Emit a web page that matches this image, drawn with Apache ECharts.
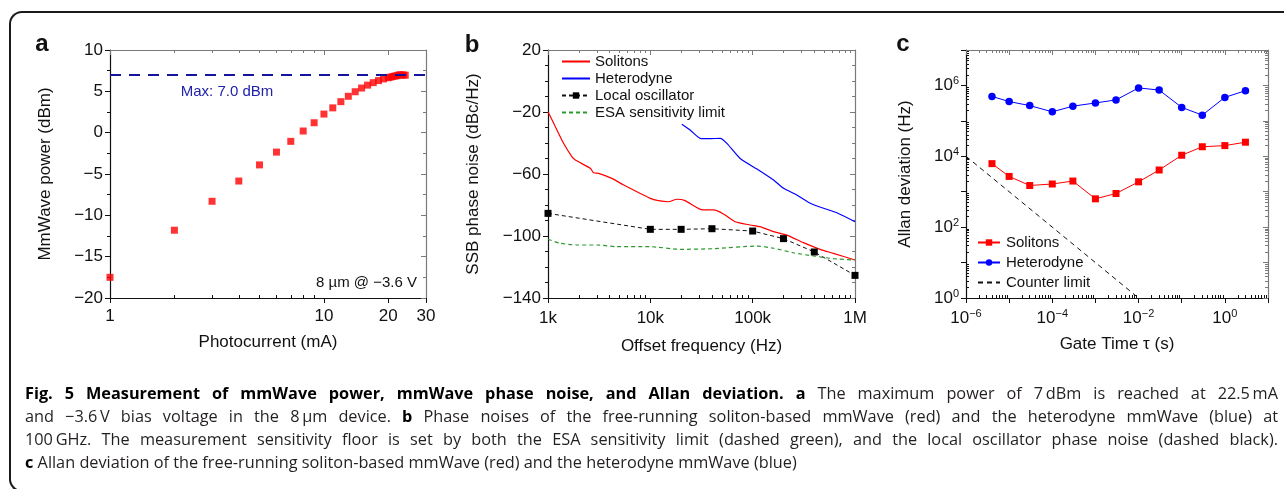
<!DOCTYPE html>
<html>
<head>
<meta charset="utf-8">
<script src="https://cdn.jsdelivr.net/npm/echarts@6.0.0/dist/echarts.min.js"></script>
<style>
  html, body { margin: 0; padding: 0; background: #fff; }
  #wrap { position: relative; width: 1284px; height: 489px; overflow: hidden; }
  #chart { position: absolute; left: 0; top: 0; width: 1284px; height: 489px; }
  #frame { position: absolute; left: 9px; top: 11px; width: 1400px; height: 481px; box-sizing: border-box;
           border: 2px solid #1a1a1a; border-right: none; border-radius: 13px 0 0 13px; pointer-events: none; }
  #caption { position: absolute; left: 25px; top: 382px; width: 1253px; font-family: 'Open Sans', sans-serif;
             font-size: 16.3px; line-height: 23px; color: #231f20; }
  #caption div { white-space: nowrap; }
  #caption b { color: #000; font-weight: 700; }
</style>
</head>
<body>
<div id="wrap">
  <div id="chart"></div>
  <div id="frame"></div>
  <div id="caption">
    <div><span class="j"><b>Fig. 5 Measurement of mmWave power, mmWave phase noise, and Allan deviation. a</b> The maximum power of 7&#8201;dBm is reached at 22.5&#8201;mA</span></div>
    <div><span class="j">and &minus;3.6&#8201;V bias voltage in the 8&#8201;&micro;m device. <b>b</b> Phase noises of the free-running soliton-based mmWave (red) and the heterodyne mmWave (blue) at</span></div>
    <div><span class="j">100&#8201;GHz. The measurement sensitivity floor is set by both the ESA sensitivity limit (dashed green), and the local oscillator phase noise (dashed black).</span></div>
    <div><span><b>c</b> Allan deviation of the free-running soliton-based mmWave (red) and the heterodyne mmWave (blue)</span></div>
  </div>
</div>
<script>
// ---- a: mmWave power vs photocurrent ----
const aCurrent = [1, 2, 3, 4, 5, 6, 7, 8, 9, 10, 11, 12, 13, 14, 15, 16, 17, 18, 19, 20, 20.5, 21, 21.5, 22, 22.5, 23, 23.5, 24];
const aPower = [-17.5, -11.8, -8.3, -5.85, -3.9, -2.35, -1.05, 0.2, 1.2, 2.25, 3.0, 3.75, 4.4, 4.95, 5.4, 5.75, 6.05, 6.3, 6.5, 6.65, 6.72, 6.8, 6.85, 6.9, 7.0, 6.98, 6.98, 6.95];
const aMax = 7.0;
const aXLabels = [1, 10, 20, 30];
const aXMinor = [2, 3, 4, 5, 6, 7, 8, 9];

// ---- b: SSB phase noise ----
const bSolFreq = [1000, 1180, 1420, 1710, 1850, 2590, 2790, 3120, 4200, 5500, 10000, 12000, 15000, 18200, 21900, 32600, 41400, 51900, 67500, 94600, 118000, 160000, 216000, 313000, 456000, 615000, 1000000];
const bSolNoise = [-19.8, -29.5, -40.2, -48.8, -51, -56.3, -59.2, -59.6, -62.8, -67.1, -75.7, -77.2, -77.9, -76.3, -77.2, -83.2, -83.2, -85.8, -90.8, -92.9, -94, -97.2, -99.4, -104.3, -108.6, -111.2, -115.5];
const bHetFreq = [20300, 24500, 30700, 38500, 48200, 56000, 75500, 114000, 160000, 200000, 270000, 366000, 492000, 664000, 1000000];
const bHetNoise = [-27.9, -31.6, -37, -37.2, -37, -40.2, -50, -57.4, -63.9, -69.2, -73.5, -78.9, -82.1, -85, -90.8];
const bLoFreq = [1e3, 1e4, 2e4, 4e4, 1e5, 2e5, 4e5, 1e6];
const bLoNoise = [-85.4, -95.7, -95.7, -95.3, -96.8, -101.7, -110.3, -125.4];
const bEsaFreq = [1000, 1320, 1920, 3000, 4700, 10000, 19600, 41400, 110000, 160000, 250000, 393000, 615000, 1000000];
const bEsaNoise = [-102.1, -104.7, -105.8, -105.8, -106.9, -106.9, -108.6, -108.2, -106.5, -107.9, -110.8, -112.9, -114.6, -115.5];
const bXLabels = [1e3, 1e4, 1e5, 1e6];

// ---- c: Allan deviation ----
const cTau = [4e-6, 1e-5, 3e-5, 1e-4, 3e-4, 1e-3, 3e-3, 1e-2, 3e-2, 0.1, 0.3, 1, 3];
const cSoliton = [6200, 2700, 1500, 1650, 2000, 630, 890, 1900, 4100, 10700, 18600, 20000, 25000];
const cHetero = [4.9e5, 3.5e5, 2.7e5, 1.8e5, 2.6e5, 3.2e5, 3.9e5, 8.5e5, 7.4e5, 2.4e5, 1.45e5, 4.6e5, 7.1e5];
const cCounterTau = [1e-6, 1e-2];
const cCounter = [1e4, 1];
const cXLabels = [1e-6, 1e-4, 1e-2, 1];
const cYLabels = [1, 1e2, 1e4, 1e6];

const FONT = "'Liberation Sans', Arial, Helvetica, sans-serif";
const AX = '#111';
const MIRROR = '#7a7a7a';

function zip(xs, ys) { return xs.map((x, i) => [x, ys[i]]); }
function decades(lo, hi) { const out = []; for (let e = lo; e <= hi; e++) out.push(+Math.pow(10, e).toPrecision(3)); return out; }
function logMinor(lo, hi) {
  const out = [];
  for (let e = lo; e < hi; e++) for (let m = 2; m <= 9; m++) out.push(+(m * Math.pow(10, e)).toPrecision(3));
  return out;
}
const minus = v => (v < 0 ? '\u2212' + (-v) : String(v));
const pow10 = v => { const e = Math.round(Math.log10(v)); return '10{s|' + minus(e) + '}'; };

const grids = [
  { left: 110, top: 50, width: 316, height: 248 },
  { left: 548, top: 50, width: 307, height: 248 },
  { left: 966, top: 50, width: 302, height: 248 }
];

const labelStyle = {
  fontSize: 17, color: '#111', fontFamily: FONT,
  rich: { s: { fontSize: 11, fontFamily: FONT, color: '#111', verticalAlign: 'bottom', padding: [0, 0, 9, 0] } }
};
const nameStyle = { fontSize: 17, color: '#111', fontFamily: FONT };

const xAxes = [];
const yAxes = [];

// one log axis = main (line, labels, major ticks) + minor ticks + mirrored side
function logAxis(list, dim, g, min, max, major, minor, labels, fmt, name, gap, margin) {
  const lo = dim === 'x' ? 'bottom' : 'left';
  const hi = dim === 'x' ? 'top' : 'right';
  const base = { gridIndex: g, type: 'log', min: min, max: max, splitLine: { show: false } };
  const idx = list.length;
  list.push(Object.assign({}, base, {
    position: lo,
    axisLine: { show: true, onZero: false, lineStyle: { color: AX, width: 1.2 } },
    axisTick: { show: true, customValues: major, length: 5, lineStyle: { color: AX } },
    axisLabel: Object.assign({ customValues: labels, formatter: fmt, margin: margin }, labelStyle),
    name: name, nameLocation: 'middle', nameGap: gap, nameTextStyle: nameStyle
  }));
  list.push(Object.assign({}, base, {
    position: lo, axisLine: { show: false, onZero: false },
    axisTick: { show: true, inside: true, customValues: minor, length: 3, lineStyle: { color: AX } },
    axisLabel: { show: false }
  }));
  list.push(Object.assign({}, base, {
    position: hi,
    axisLine: { show: true, onZero: false, lineStyle: { color: MIRROR, width: 1.2 } },
    axisTick: { show: true, inside: true, customValues: major, length: 5, lineStyle: { color: MIRROR } },
    axisLabel: { show: false }
  }));
  list.push(Object.assign({}, base, {
    position: hi, axisLine: { show: false, onZero: false },
    axisTick: { show: true, inside: true, customValues: minor, length: 3, lineStyle: { color: MIRROR } },
    axisLabel: { show: false }
  }));
  return idx;
}

function valueY(g, min, max, interval, split, name, gap) {
  const base = { gridIndex: g, type: 'value', min: min, max: max, interval: interval, splitLine: { show: false } };
  const idx = yAxes.length;
  yAxes.push(Object.assign({}, base, {
    position: 'left',
    axisLine: { show: true, onZero: false, lineStyle: { color: AX, width: 1.2 } },
    axisTick: { show: true, length: 5, lineStyle: { color: AX } },
    minorTick: { show: true, splitNumber: split, length: 3, lineStyle: { color: AX } },
    axisLabel: Object.assign({ formatter: minus, margin: 7 }, labelStyle),
    name: name, nameLocation: 'middle', nameGap: gap, nameTextStyle: nameStyle
  }));
  yAxes.push(Object.assign({}, base, {
    position: 'right',
    axisLine: { show: true, onZero: false, lineStyle: { color: MIRROR, width: 1.2 } },
    axisTick: { show: true, inside: true, length: 5, lineStyle: { color: MIRROR } },
    minorTick: { show: true, splitNumber: split, length: 3, lineStyle: { color: MIRROR } },
    axisLabel: { show: false }
  }));
  return idx;
}

const axA = logAxis(xAxes, 'x', 0, 1, 30, aXLabels, aXMinor, aXLabels, v => String(v), 'Photocurrent (mA)', 36, 10);
const ayA = valueY(0, -20, 10, 5, 2, 'MmWave power (dBm)', 56);

const axB = logAxis(xAxes, 'x', 1, 1e3, 1e6, bXLabels, logMinor(3, 6), bXLabels,
  v => (v >= 1e6 ? v / 1e6 + 'M' : v / 1e3 + 'k'), 'Offset frequency (Hz)', 40, 12);
const ayB = valueY(1, -140, 20, 40, 4, 'SSB phase noise (dBc/Hz)', 66);

const axC = logAxis(xAxes, 'x', 2, 1e-6, 10, decades(-6, 1), logMinor(-6, 1), cXLabels, pow10, 'Gate Time \u03c4 (s)', 38, 10);
const ayC = logAxis(yAxes, 'y', 2, 1, 1e7, decades(0, 7), logMinor(0, 7), cYLabels, pow10, 'Allan deviation (Hz)', 52, 7);

const noSymbol = { opacity: 0 };

const option = {
  animation: false,
  backgroundColor: '#fff',
  textStyle: { fontFamily: FONT },
  grid: grids.map(g => Object.assign({ outerBoundsMode: 'none', containLabel: false }, g)),
  xAxis: xAxes,
  yAxis: yAxes,
  legend: [
    {
      data: [
        { name: 'Solitons', itemStyle: noSymbol },
        { name: 'Heterodyne', itemStyle: noSymbol },
        { name: 'Local oscillator' },
        { name: 'ESA sensitivity limit', itemStyle: noSymbol }
      ],
      orient: 'vertical', left: 556, top: 49, itemWidth: 28, itemHeight: 8, itemGap: 2,
      selectedMode: false, textStyle: { fontSize: 15, color: '#111', fontFamily: FONT }
    },
    {
      data: [
        { name: 'c-Solitons' },
        { name: 'c-Heterodyne' },
        { name: 'Counter limit', itemStyle: noSymbol }
      ],
      formatter: n => n.replace('c-', ''),
      orient: 'vertical', left: 972, top: 230, itemWidth: 22, itemHeight: 8, itemGap: 5,
      selectedMode: false, textStyle: { fontSize: 15, color: '#111', fontFamily: FONT, padding: [0, 0, 0, 1] }
    }
  ],
  graphic: [
    { type: 'text', style: { x: 42, y: 56, text: 'a', textAlign: 'center', textVerticalAlign: 'bottom', font: 'bold 24px ' + FONT, fill: '#111' } },
    { type: 'text', style: { x: 472, y: 57, text: 'b', textAlign: 'center', textVerticalAlign: 'bottom', font: 'bold 24px ' + FONT, fill: '#111' } },
    { type: 'text', style: { x: 903, y: 56, text: 'c', textAlign: 'center', textVerticalAlign: 'bottom', font: 'bold 24px ' + FONT, fill: '#111' } },
    { type: 'text', style: { x: 227, y: 92, text: 'Max: 7.0 dBm', textAlign: 'center', textVerticalAlign: 'middle', font: '15px ' + FONT, fill: '#2222a8' } },
    { type: 'text', style: { x: 417, y: 283, text: '8 \u00b5m @ \u22123.6 V', textAlign: 'right', textVerticalAlign: 'middle', font: '15px ' + FONT, fill: '#111' } }
  ],
  series: [
    {
      name: 'power', type: 'scatter', xAxisIndex: axA, yAxisIndex: ayA,
      data: zip(aCurrent, aPower), symbol: 'rect', symbolSize: 7,
      itemStyle: { color: '#ff0000' },
      markLine: {
        silent: true, symbol: 'none', data: [{ yAxis: aMax }],
        lineStyle: { color: '#14149c', type: [11, 8], width: 1.8 },
        label: { show: false }
      }
    },
    {
      name: 'Solitons', type: 'line', xAxisIndex: axB, yAxisIndex: ayB,
      data: zip(bSolFreq, bSolNoise), symbol: 'none', smooth: 0.2,
      lineStyle: { color: '#ff0000', width: 1.2 }, itemStyle: { color: '#ff0000' }
    },
    {
      name: 'Heterodyne', type: 'line', xAxisIndex: axB, yAxisIndex: ayB,
      data: zip(bHetFreq, bHetNoise), symbol: 'none', smooth: 0.2,
      lineStyle: { color: '#0000ff', width: 1.2 }, itemStyle: { color: '#0000ff' }
    },
    {
      name: 'Local oscillator', type: 'line', xAxisIndex: axB, yAxisIndex: ayB,
      data: zip(bLoFreq, bLoNoise), symbol: 'rect', symbolSize: 7,
      lineStyle: { color: '#111', width: 1, type: [4, 3] }, itemStyle: { color: '#000' }
    },
    {
      name: 'ESA sensitivity limit', type: 'line', xAxisIndex: axB, yAxisIndex: ayB,
      data: zip(bEsaFreq, bEsaNoise), symbol: 'none', smooth: 0.2,
      lineStyle: { color: '#2e9a2e', width: 1.2, type: [4, 3] }, itemStyle: { color: '#2e9a2e' }
    },
    {
      name: 'c-Solitons', type: 'line', xAxisIndex: axC, yAxisIndex: ayC,
      data: zip(cTau, cSoliton), symbol: 'rect', symbolSize: 7,
      lineStyle: { color: '#ff0000', width: 1 }, itemStyle: { color: '#ff0000' }
    },
    {
      name: 'c-Heterodyne', type: 'line', xAxisIndex: axC, yAxisIndex: ayC,
      data: zip(cTau, cHetero), symbol: 'circle', symbolSize: 7.5,
      lineStyle: { color: '#0000ff', width: 1 }, itemStyle: { color: '#0000ff' }
    },
    {
      name: 'Counter limit', type: 'line', xAxisIndex: axC, yAxisIndex: ayC,
      data: zip(cCounterTau, cCounter), symbol: 'none',
      lineStyle: { color: '#111', width: 1, type: [5, 4] }, itemStyle: { color: '#111' }
    }
  ]
};

const chart = echarts.init(document.getElementById('chart'));
chart.setOption(option);

// stretch the first three caption lines to the full column width
const CAP_W = 1253;
document.querySelectorAll('#caption .j').forEach(el => {
  el.style.wordSpacing = '0px';
  const w = el.getBoundingClientRect().width;
  const gaps = (el.textContent.match(/ /g) || []).length;
  if (gaps) el.style.wordSpacing = ((CAP_W - w) / gaps) + 'px';
});
</script>
</body>
</html>
